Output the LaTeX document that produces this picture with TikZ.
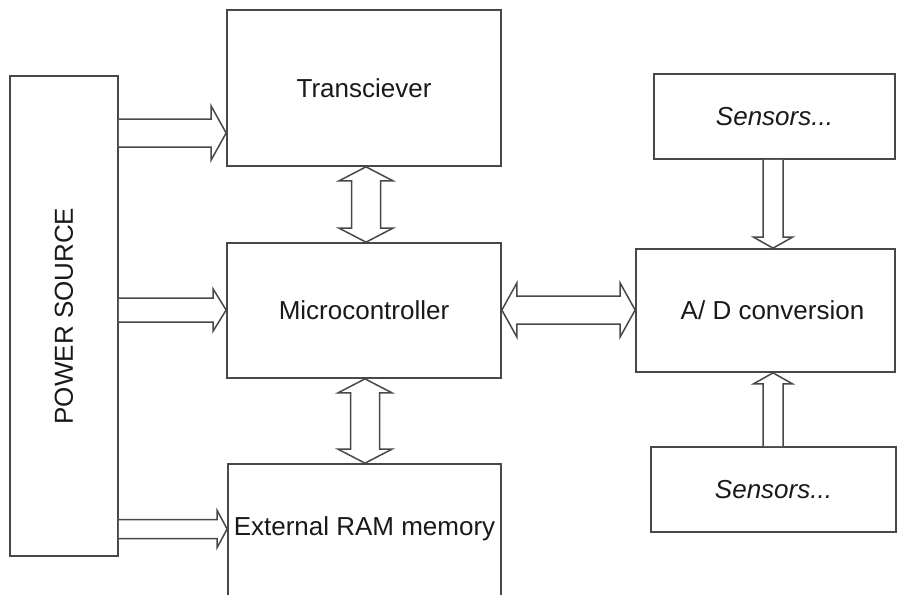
\documentclass[tikz,border=0pt]{standalone}
\usepackage{fontspec}
\setmainfont{Liberation Sans}
\usetikzlibrary{calc}

% hollow block arrow with one head: tail, tip, shaft half-width, head half-width, head length
\newcommand\blockarrow[5]{%
  \coordinate (hN) at ($(#2)!#5!(#1)$);
  \draw[fat] ($(#1)!#3!90:(#2)$) -- ($(hN)!#3!90:(#2)$) -- ($(hN)!#4!90:(#2)$)
    -- (#2) -- ($(hN)!#4!-90:(#2)$) -- ($(hN)!#3!-90:(#2)$) -- ($(#1)!#3!-90:(#2)$);
}
% hollow block arrow with two heads
\newcommand\blockarrowboth[5]{%
  \coordinate (hA) at ($(#1)!#5!(#2)$);
  \coordinate (hB) at ($(#2)!#5!(#1)$);
  \draw[fat] (#1) -- ($(hA)!#4!90:(#2)$) -- ($(hA)!#3!90:(#2)$)
    -- ($(hB)!#3!-90:(#1)$) -- ($(hB)!#4!-90:(#1)$) -- (#2)
    -- ($(hB)!#4!90:(#1)$) -- ($(hB)!#3!90:(#1)$)
    -- ($(hA)!#3!-90:(#2)$) -- ($(hA)!#4!-90:(#2)$) -- cycle;
}

\definecolor{edge}{RGB}{72,72,72}
\definecolor{ink}{RGB}{25,25,25}

\begin{document}
\begin{tikzpicture}[x=1pt,y=-1pt,
  block/.style={draw=edge, line width=1.7pt, rectangle, inner sep=0pt,
    text=ink, font=\fontsize{26}{30}\selectfont},
  fat/.style={draw=edge, line width=1.5pt, line join=miter, fill=white}]
\useasboundingbox (0,0) rectangle (899,594);

% blocks
\node[block, minimum width=108pt, minimum height=480pt] (power) at (64,316)
  {\rotatebox{90}{POWER SOURCE}};
\node[block, minimum width=274pt, minimum height=156pt] (trans) at (364,88) {Transciever};
\node[block, minimum width=274pt, minimum height=135pt] (micro) at (364,310.5) {Microcontroller};
\node[block, minimum width=273pt, minimum height=136pt] (ram) at (364.5,532) {};
\node[font=\fontsize{26}{30}\selectfont, text=ink] (ramtext) at (364.5,529) {External RAM memory};
\node[block, minimum width=259pt, minimum height=123pt] (ad) at (765.5,310.5)
  {\hspace*{14pt}A/ D conversion};
\node[block, minimum width=241pt, minimum height=85pt] (sensA) at (774.5,116.5) {\itshape Sensors...};
\node[block, minimum width=245pt, minimum height=85pt] (sensB) at (773.5,489.5) {\itshape Sensors...};

% connector end points on the block borders
\coordinate (pT) at (power.east |- 0,133);
\coordinate (tT) at (trans.west |- 0,133);
\coordinate (pM) at (power.east |- 0,310);
\coordinate (mM) at (micro.west |- 0,310);
\coordinate (pR) at (power.east |- 0,529);
\coordinate (rR) at (ram.west |- 0,529);
\coordinate (tB) at (trans.south -| 366,0);
\coordinate (mT) at (micro.north -| 366,0);
\coordinate (mB) at (micro.south -| 365,0);
\coordinate (rT) at (ram.north -| 365,0);
\coordinate (mR) at (micro.east |- 0,310);
\coordinate (aL) at (ad.west |- 0,310);
\coordinate (sA) at (sensA.south -| 773,0);
\coordinate (aT) at (ad.north -| 773,0);
\coordinate (sB) at (sensB.north -| 773,0);
\coordinate (aB) at (ad.south -| 773,0);

% power feeds
\blockarrow{pT}{tT}{14pt}{27pt}{15pt}
\blockarrow{pM}{mM}{12pt}{21pt}{13pt}
\blockarrow{pR}{rR}{9.5pt}{18.5pt}{10pt}
% data paths
\blockarrowboth{tB}{mT}{14.5pt}{27pt}{14pt}
\blockarrowboth{mB}{rT}{14.5pt}{27pt}{14pt}
\blockarrowboth{mR}{aL}{14pt}{27pt}{15pt}
% sensor inputs
\blockarrow{sA}{aT}{10pt}{19.5pt}{11pt}
\blockarrow{sB}{aB}{10pt}{19.5pt}{11pt}
\end{tikzpicture}
\end{document}
